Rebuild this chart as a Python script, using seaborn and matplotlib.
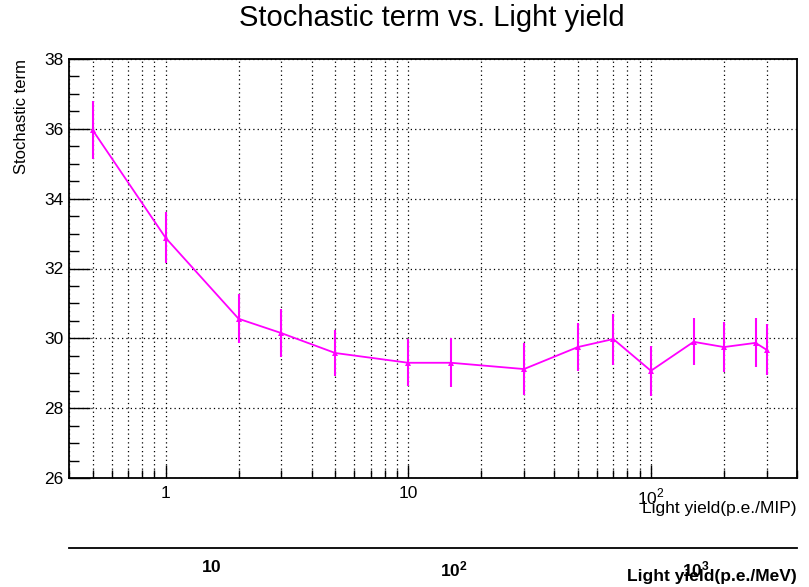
import numpy as np
import pandas as pd
import matplotlib
matplotlib.use("Agg")
import matplotlib.pyplot as plt
import matplotlib.ticker as mticker
import seaborn as sns

# Light yield in photo-electrons per MIP
light_yield_mip = [0.5, 1, 2, 3, 5, 10, 15, 30, 50, 70, 100, 150, 200, 270, 300]
# Fitted stochastic term (%) and its uncertainty
stochastic = [35.97, 32.88, 30.56, 30.15, 29.58, 29.30, 29.30, 29.12, 29.75,
              29.98, 29.07, 29.90, 29.75, 29.87, 29.67]
stochastic_err = [0.82, 0.73, 0.70, 0.69, 0.66, 0.67, 0.70, 0.75, 0.69,
                  0.73, 0.72, 0.67, 0.72, 0.70, 0.73]
# Conversion from p.e./MIP to p.e./MeV
mev_per_mip = 6.5

x_range = (0.4, 400)
y_range = (26, 38)
x_major = [1, 10, 100]
x_major_labels = ["1", "10", r"$10^{2}$"]
mev_major = [10, 100, 1000]
mev_major_labels = [r"$\mathbf{10}$", r"$\mathbf{10^{2}}$", r"$\mathbf{10^{3}}$"]

sns.set_style("white")
plt.rcParams["font.family"] = ["Liberation Sans", "DejaVu Sans"]
plt.rcParams["mathtext.fontset"] = "custom"
plt.rcParams["mathtext.rm"] = "Liberation Sans"
plt.rcParams["mathtext.bf"] = "Liberation Sans:bold"
for key in ["text.color", "axes.labelcolor", "xtick.color", "ytick.color",
            "axes.edgecolor"]:
    plt.rcParams[key] = "black"

W, H = 809, 587
fig = plt.figure(figsize=(W / 100, H / 100), dpi=100)
L, R, T, B = 69, 797, 59, 478
ax = fig.add_axes([L / W, 1 - B / H, (R - L) / W, (B - T) / H])

df = pd.DataFrame({"ly": light_yield_mip, "st": stochastic, "err": stochastic_err})
col = "#ff00ff"

ax.set_xscale("log")
ax.set_xlim(*x_range)
ax.set_ylim(*y_range)

# grid
ax.xaxis.set_major_locator(mticker.FixedLocator(x_major))
ax.xaxis.set_major_formatter(mticker.FixedFormatter(x_major_labels))
ax.xaxis.set_minor_locator(mticker.LogLocator(base=10, subs=np.arange(2, 10)))
ax.xaxis.set_minor_formatter(mticker.NullFormatter())
ax.yaxis.set_major_locator(mticker.MultipleLocator(2))
ax.yaxis.set_minor_locator(mticker.MultipleLocator(0.5))
dot = (0, (1, 2.5))
ax.grid(True, which="both", axis="x", color="black", linestyle=dot, linewidth=0.9)
ax.grid(True, which="major", axis="y", color="black", linestyle=dot, linewidth=0.9)
ax.set_axisbelow(True)

ax.errorbar(df["ly"], df["st"], yerr=df["err"], fmt="none", ecolor=col,
            elinewidth=1.5, capsize=0, zorder=3)
sns.lineplot(data=df, x="ly", y="st", ax=ax, color=col, linewidth=1.3,
             marker="^", markersize=5, markeredgewidth=0, zorder=4)

for s in ax.spines.values():
    s.set_color("black")
    s.set_linewidth(1.3)

ax.tick_params(axis="x", which="major", direction="in", length=9.5, width=1,
               labelsize=12.5, pad=6, top=False, bottom=True)
ax.tick_params(axis="x", which="minor", direction="in", length=6, width=1,
               top=False, bottom=True)
ax.tick_params(axis="y", which="major", direction="in", length=15, width=1,
               labelsize=12.5, pad=4, right=False, left=True)
ax.tick_params(axis="y", which="minor", direction="in", length=7.5, width=1,
               right=False, left=True)
ax.set_xlabel("")
ax.set_ylabel("")

# axis titles
fig.text(R / W, 1 - 508 / H, "Light yield(p.e./MIP)", ha="right", va="center",
         fontsize=12.5)
fig.text(22 / W, 1 - T / H, "Stochastic term", rotation=90, ha="center",
         va="top", fontsize=12)
fig.text(432 / W, 1 - 18 / H, "Stochastic term vs. Light yield", ha="center",
         va="center", fontsize=21)

# second horizontal axis in p.e./MeV
y2 = 548
ax2 = fig.add_axes([L / W, 1 - y2 / H, (R - L) / W, 0.0001])
ax2.patch.set_visible(False)
for k in ["top", "left", "right"]:
    ax2.spines[k].set_visible(False)
ax2.spines["bottom"].set_linewidth(1.3)
ax2.spines["bottom"].set_color("black")
ax2.set_xscale("log")
ax2.set_xlim(x_range[0] * mev_per_mip, x_range[1] * mev_per_mip)
ax2.set_yticks([])
ax2.xaxis.set_major_locator(mticker.FixedLocator(mev_major))
ax2.xaxis.set_major_formatter(mticker.FixedFormatter(mev_major_labels))
ax2.xaxis.set_minor_locator(mticker.LogLocator(base=10, subs=np.arange(2, 10)))
ax2.xaxis.set_minor_formatter(mticker.NullFormatter())
ax2.tick_params(axis="x", which="major", direction="in", length=10, width=1,
                labelsize=12.5, pad=8)
ax2.tick_params(axis="x", which="minor", direction="in", length=5, width=1)
for lab in ax2.get_xticklabels():
    lab.set_fontweight("bold")
fig.text(R / W, 1 - 577 / H, "Light yield(p.e./MeV)", ha="right", va="center",
         fontsize=12.5, fontweight="bold")

fig.savefig("out.png", dpi=100)
